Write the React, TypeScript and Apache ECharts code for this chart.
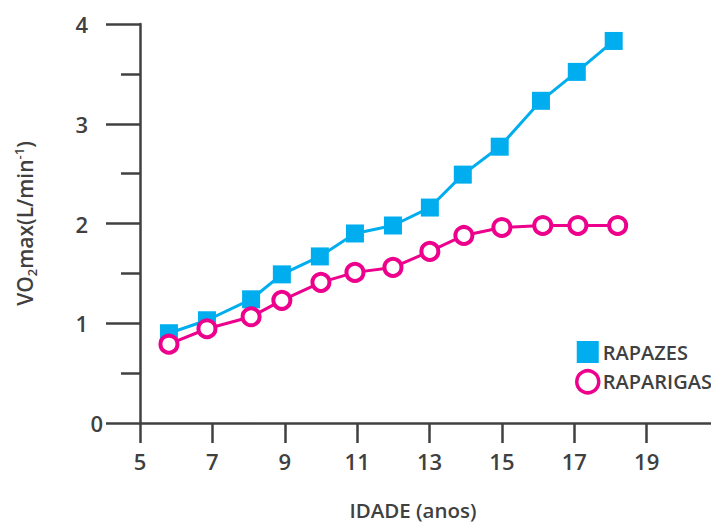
import React, { useEffect, useRef } from "react";
import * as echarts from "echarts";

const boysAge = [5.8, 6.85, 8.07, 8.92, 9.97, 10.94, 11.99, 13.01, 13.92, 14.94, 16.08, 17.07, 18.09];
const boysVO2 = [0.9, 1.03, 1.24, 1.49, 1.67, 1.9, 1.98, 2.16, 2.49, 2.77, 3.23, 3.52, 3.83];
const girlsAge = [5.8, 6.85, 8.07, 8.92, 10.0, 10.94, 11.99, 13.01, 13.95, 15.0, 16.13, 17.1, 18.2];
const girlsVO2 = [0.79, 0.945, 1.065, 1.23, 1.41, 1.51, 1.56, 1.72, 1.88, 1.96, 1.98, 1.98, 1.98];
const seriesNames = ["RAPAZES", "RAPARIGAS"];

const BLUE = "#00AEEF";
const PINK = "#EC008C";
const INK = "#404040";
const FONT = "'Open Sans', sans-serif";

export default function App() {
  const ref = useRef<HTMLDivElement>(null);
  useEffect(() => {
    if (!ref.current) return;
    const chart = echarts.init(ref.current, null, { renderer: "svg" });
    const zip = (a: number[], b: number[]) => a.map((v, i) => [v, b[i]]);
    chart.setOption({
      animation: false,
      backgroundColor: "#fff",
      grid: { left: 140, top: 24, width: 579, height: 399, containLabel: false, outerBoundsMode: "none" },
      xAxis: {
        type: "value",
        min: 5,
        max: 21,
        interval: 2,
        axisLine: { show: true, lineStyle: { color: INK, width: 2.5 } },
        axisTick: { show: true, length: 20, lineStyle: { color: INK, width: 2.5 } },
        splitLine: { show: false },
        axisLabel: {
          margin: 27,
          fontSize: 22,
          fontWeight: 600,
          fontFamily: FONT,
          color: INK,
          formatter: (v: number) => (v >= 21 ? "" : String(v)),
        },
      },
      yAxis: {
        type: "value",
        min: 0,
        max: 4,
        interval: 1,
        name: "{a|VO}{sub|2}{a|max(L/min}{sup|-1}{a|)}",
        nameLocation: "middle",
        nameGap: 102,
        nameTextStyle: {
          rich: {
            a: { fontSize: 21, fontWeight: 600, fontFamily: FONT, color: INK, lineHeight: 26 },
            sub: { fontSize: 13, fontWeight: 600, fontFamily: FONT, color: INK, verticalAlign: "bottom", lineHeight: 26 },
            sup: { fontSize: 13, fontWeight: 600, fontFamily: FONT, color: INK, verticalAlign: "top", lineHeight: 26 },
          },
        },
        axisLine: { show: true, lineStyle: { color: INK, width: 2.5 } },
        axisTick: { show: true, length: 34, lineStyle: { color: INK, width: 2.5 } },
        minorTick: { show: true, splitNumber: 2, length: 19, lineStyle: { color: INK, width: 2.5 } },
        splitLine: { show: false },
        minorSplitLine: { show: false },
        axisLabel: {
          margin: 52,
          fontSize: 22,
          fontWeight: 600,
          fontFamily: FONT,
          color: INK,
          formatter: (v: number) => (v === 0 ? "" : String(v)),
        },
      },
      legend: {
        orient: "vertical",
        left: 570,
        top: 336,
        itemWidth: 22,
        itemHeight: 22,
        itemGap: 6,
        textStyle: { fontSize: 20, fontWeight: 600, fontFamily: FONT, color: INK, padding: [0, 0, 0, -1] },
        data: [
          { name: seriesNames[0], icon: "rect", itemStyle: { color: BLUE } },
          { name: seriesNames[1], icon: "circle", itemStyle: { color: "#fff", borderColor: PINK, borderWidth: 3.5 } },
        ],
      },
      graphic: [
        {
          type: "text",
          x: 413,
          y: 510,
          style: {
            text: "IDADE (anos)",
            fontSize: 20.5,
            fontWeight: 600,
            fontFamily: FONT,
            fill: INK,
            align: "center",
            verticalAlign: "middle",
          },
        },
        {
          type: "text",
          x: 103,
          y: 423,
          style: {
            text: "0",
            fontSize: 22,
            fontWeight: 600,
            fontFamily: FONT,
            fill: INK,
            align: "right",
            verticalAlign: "middle",
          },
        },
      ],
      series: [
        {
          name: seriesNames[0],
          type: "line",
          data: zip(boysAge, boysVO2),
          symbol: "rect",
          symbolSize: 18,
          color: BLUE,
          itemStyle: { color: BLUE },
          lineStyle: { color: BLUE, width: 3 },
          z: 2,
        },
        {
          name: seriesNames[1],
          type: "line",
          data: zip(girlsAge, girlsVO2),
          symbol: "circle",
          symbolSize: 17,
          showAllSymbol: true,
          color: PINK,
          itemStyle: { color: "#fff", borderColor: PINK, borderWidth: 4 },
          lineStyle: { color: PINK, width: 3 },
          z: 3,
        },
      ],
    });
    return () => chart.dispose();
  }, []);
  return <div ref={ref} style={{ width: 711, height: 524, position: "absolute", left: 0, top: 0 }} />;
}
